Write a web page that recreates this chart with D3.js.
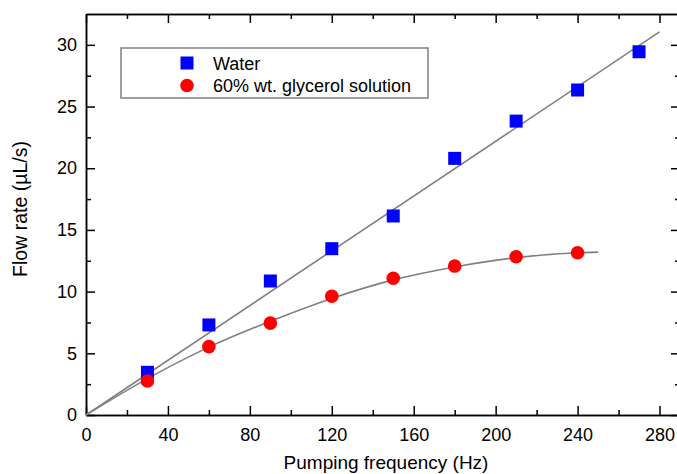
<!DOCTYPE html>
<html>
<head>
<meta charset="utf-8">
<script src="https://d3js.org/d3.v7.min.js"></script>
<style>
  body { margin: 0; background: #fff; }
  svg { display: block; font-family: "Liberation Sans", Arial, sans-serif; }
  .axis path, .axis line { stroke: #000; stroke-width: 1.5px; }
  .axis text { font-size: 18px; fill: #000; font-family: "Liberation Sans", Arial, sans-serif; }
  .fit { fill: none; stroke: #808080; stroke-width: 1.6px; }
</style>
</head>
<body>
<svg id="chart"></svg>
<script>
var freq = [30, 60, 90, 120, 150, 180, 210, 240, 270];
var water = [3.46, 7.3, 10.86, 13.48, 16.13, 20.8, 23.82, 26.34, 29.44];
var glycerol = [2.76, 5.54, 7.45, 9.62, 11.08, 12.07, 12.83, 13.15];

// fitted curves as drawn
var waterFitX = [0, 280];
var waterFitY = [0, 31.05];
var glyFitX = [0, 30, 60, 90, 120, 150, 180, 210, 240, 250];
var glyFitY = [0, 2.95, 5.5, 7.6, 9.45, 10.95, 12.0, 12.75, 13.15, 13.2];

var xTicks = [0, 40, 80, 120, 160, 200, 240, 280];
var xMinor = [20, 60, 100, 140, 180, 220, 260];
var yTicks = [0, 5, 10, 15, 20, 25, 30];
var yMinor = [2.5, 7.5, 12.5, 17.5, 22.5, 27.5];

var W = 677, H = 474;
var margin = {top: 14, right: -3, bottom: 59, left: 86};
var width = W - margin.left - margin.right,
    height = H - margin.top - margin.bottom;

var svg = d3.select("#chart").attr("width", W).attr("height", H);
var g = svg.append("g").attr("transform", "translate(" + margin.left + "," + margin.top + ")");

var x = d3.scaleLinear().domain([0, 290]).range([0, width]);
var y = d3.scaleLinear().domain([0, 32.5]).range([height, 0]);

// axes, ticks pointing inward
g.append("g").attr("class", "axis")
    .attr("transform", "translate(0," + height + ")")
    .call(d3.axisBottom(x).tickValues(xTicks).tickSize(-9).tickSizeOuter(0).tickPadding(13));
g.append("g").attr("class", "axis")
    .attr("transform", "translate(0," + height + ")")
    .call(d3.axisBottom(x).tickValues(xMinor).tickSize(-5).tickSizeOuter(0).tickFormat(""));
g.append("g").attr("class", "axis")
    .call(d3.axisTop(x).tickValues(xTicks).tickSize(-9).tickSizeOuter(0).tickFormat(""));
g.append("g").attr("class", "axis")
    .call(d3.axisTop(x).tickValues(xMinor).tickSize(-5).tickSizeOuter(0).tickFormat(""));

g.append("g").attr("class", "axis")
    .call(d3.axisLeft(y).tickValues(yTicks).tickSize(-9).tickSizeOuter(0).tickPadding(9));
g.append("g").attr("class", "axis")
    .call(d3.axisLeft(y).tickValues(yMinor).tickSize(-5).tickSizeOuter(0).tickFormat(""));
g.append("g").attr("class", "axis")
    .attr("transform", "translate(" + width + ",0)")
    .call(d3.axisRight(y).tickValues(yTicks).tickSize(-9).tickSizeOuter(0).tickFormat(""));
g.append("g").attr("class", "axis")
    .attr("transform", "translate(" + width + ",0)")
    .call(d3.axisRight(y).tickValues(yMinor).tickSize(-5).tickSizeOuter(0).tickFormat(""));

// fit lines
var line = d3.line().x(d => x(d[0])).y(d => y(d[1]));
g.append("path").attr("class", "fit")
    .attr("d", line(d3.zip(waterFitX, waterFitY)));
g.append("path").attr("class", "fit")
    .attr("d", line.curve(d3.curveMonotoneX)(d3.zip(glyFitX, glyFitY)));

// markers
var sq = 13;
g.selectAll(".water").data(d3.zip(freq, water)).enter().append("rect")
    .attr("x", d => x(d[0]) - sq / 2)
    .attr("y", d => y(d[1]) - sq / 2)
    .attr("width", sq).attr("height", sq)
    .attr("fill", "#0000ff");
g.selectAll(".gly").data(d3.zip(freq.slice(0, glycerol.length), glycerol)).enter().append("circle")
    .attr("cx", d => x(d[0]))
    .attr("cy", d => y(d[1]))
    .attr("r", 6.8)
    .attr("fill", "#ff0000");

// axis titles
svg.append("text")
    .attr("x", 386).attr("y", 469)
    .attr("text-anchor", "middle")
    .attr("font-size", 19)
    .text("Pumping frequency (Hz)");
svg.append("text")
    .attr("transform", "translate(27,209) rotate(-90)")
    .attr("text-anchor", "middle")
    .attr("font-size", 19.5)
    .text("Flow rate (\u00b5L/s)");

// legend
var leg = svg.append("g");
leg.append("rect")
    .attr("x", 121).attr("y", 48).attr("width", 307).attr("height", 50)
    .attr("fill", "#fff").attr("stroke", "#808080").attr("stroke-width", 1.5);
leg.append("rect")
    .attr("x", 187 - sq / 2).attr("y", 63 - sq / 2).attr("width", sq).attr("height", sq)
    .attr("fill", "#0000ff");
leg.append("circle")
    .attr("cx", 187).attr("cy", 85.5).attr("r", 6.8).attr("fill", "#ff0000");
leg.append("text").attr("x", 213).attr("y", 69.5).attr("font-size", 18).text("Water");
leg.append("text").attr("x", 213).attr("y", 92).attr("font-size", 18).text("60% wt. glycerol solution");
</script>
</body>
</html>
